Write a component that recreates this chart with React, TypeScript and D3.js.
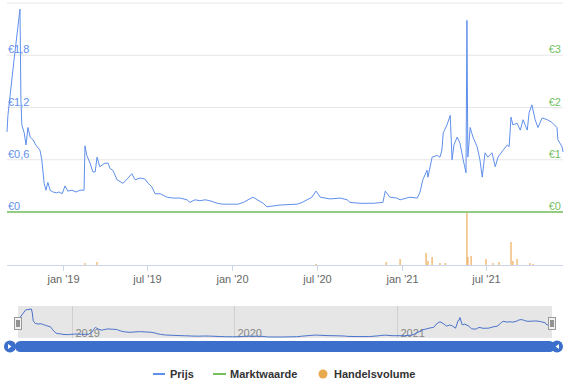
import { useMemo } from "react";
import * as d3 from "d3";

const priceDates = [
  "2018-09-03", "2018-09-05", "2018-09-18", "2018-10-01", "2018-10-03", "2018-10-05", "2018-10-10",
  "2018-10-14", "2018-10-18", "2018-10-23", "2018-10-29", "2018-11-04", "2018-11-13", "2018-11-17",
  "2018-11-22", "2018-11-26", "2018-11-30", "2018-12-05", "2018-12-11", "2018-12-18", "2018-12-24",
  "2018-12-31", "2019-01-06", "2019-01-12", "2019-01-21", "2019-01-30", "2019-02-07", "2019-02-16",
  "2019-02-18", "2019-02-22", "2019-03-01", "2019-03-07", "2019-03-12", "2019-03-16", "2019-03-22",
  "2019-04-02", "2019-04-09", "2019-04-13", "2019-04-19", "2019-04-28", "2019-05-11", "2019-05-22",
  "2019-05-30", "2019-06-06", "2019-06-17", "2019-06-27", "2019-07-04", "2019-07-12", "2019-07-19",
  "2019-07-30", "2019-08-14", "2019-08-27", "2019-09-11", "2019-09-26", "2019-10-02", "2019-10-13",
  "2019-10-24", "2019-11-04", "2019-11-14", "2019-11-30", "2019-12-12", "2019-12-28", "2020-01-14",
  "2020-01-25", "2020-02-15", "2020-03-08", "2020-03-16", "2020-04-13", "2020-05-20", "2020-05-31",
  "2020-06-21", "2020-06-30", "2020-07-09", "2020-07-30", "2020-08-21", "2020-09-05", "2020-09-11",
  "2020-10-03", "2020-10-31", "2020-11-21", "2020-11-26", "2020-12-06", "2020-12-21", "2020-12-28",
  "2021-01-18", "2021-02-03", "2021-02-09", "2021-02-15", "2021-02-24", "2021-02-26", "2021-03-07",
  "2021-03-18", "2021-03-24", "2021-03-28", "2021-03-31", "2021-04-08", "2021-04-15", "2021-04-19",
  "2021-04-23", "2021-04-30", "2021-05-06", "2021-05-13", "2021-05-19", "2021-05-21", "2021-05-23",
  "2021-05-28", "2021-06-03", "2021-06-12", "2021-06-18", "2021-06-23", "2021-06-29", "2021-07-05",
  "2021-07-14", "2021-07-21", "2021-07-27", "2021-08-07", "2021-08-16", "2021-08-20", "2021-08-24",
  "2021-08-28", "2021-09-06", "2021-09-13", "2021-09-19", "2021-09-28", "2021-10-02", "2021-10-08",
  "2021-10-15", "2021-10-21", "2021-10-30", "2021-11-10", "2021-11-20", "2021-12-01", "2021-12-03",
  "2021-12-12", "2021-12-14",
];
const priceValues = [
  0.92, 1.11, 1.74, 2.33, 1.28, 1.0, 0.91,
  0.77, 0.97, 0.86, 0.83, 0.77, 0.71, 0.6,
  0.33, 0.25, 0.34, 0.25, 0.23, 0.22, 0.23,
  0.21, 0.3, 0.24, 0.25, 0.23, 0.25, 0.25,
  0.76, 0.65, 0.56, 0.46, 0.46, 0.63, 0.52,
  0.56, 0.56, 0.5, 0.48, 0.37, 0.33, 0.39,
  0.44, 0.37, 0.39, 0.38, 0.33, 0.29, 0.21,
  0.21, 0.17, 0.16, 0.16, 0.14, 0.11, 0.14,
  0.13, 0.14, 0.13, 0.1, 0.09, 0.09, 0.09,
  0.11, 0.17, 0.1, 0.06, 0.08, 0.09, 0.11,
  0.17, 0.24, 0.17, 0.15, 0.16, 0.14, 0.11,
  0.1, 0.1, 0.11, 0.24, 0.17, 0.16, 0.14,
  0.17, 0.16, 0.23, 0.37, 0.48, 0.4, 0.63,
  0.65, 0.63, 0.71, 0.91, 1.0, 1.11, 0.6,
  0.77, 0.86, 0.79, 0.6, 0.45, 2.2, 0.63,
  0.97, 0.86, 0.75, 0.6, 0.4, 0.68, 0.63,
  0.68, 0.52, 0.63, 0.71, 0.77, 0.75, 1.09,
  1.0, 1.02, 0.94, 1.06, 0.94, 1.14, 1.23,
  1.06, 0.97, 1.08, 1.06, 1.03, 0.97, 0.83,
  0.75, 0.69,
];

const marketDates = ["2018-09-03", "2021-12-14"];
const marketValues = [0, 0];

const volumeDates = [
  "2019-02-18", "2019-03-16", "2020-06-30", "2020-11-28", "2020-12-28", "2021-02-22", "2021-02-26",
  "2021-03-07", "2021-03-24", "2021-04-04", "2021-05-21", "2021-05-23", "2021-05-30", "2021-07-01",
  "2021-07-16", "2021-07-29", "2021-08-24", "2021-08-28", "2021-09-06", "2021-10-04", "2021-10-11",
];
const volumeValues = [2, 3, 1, 3, 6, 12, 4, 8, 2, 2, 52, 8, 9, 6, 2, 3, 23, 4, 6, 2, 1];

const leftTicks = [0, 0.6, 1.2, 1.8, 2.4];
const rightTicks = [0, 1, 2, 3];
const xTickDates = ["2019-01-01", "2019-07-01", "2020-01-01", "2020-07-01", "2021-01-01", "2021-07-01"];
const xTickLabels = ["jan '19", "jul '19", "jan '20", "jul '20", "jan '21", "jul '21"];
const navTickDates = ["2019-01-01", "2020-01-01", "2021-01-01"];
const navTickLabels = ["2019", "2020", "2021"];

const parse = d3.timeParse("%Y-%m-%d");
const FONT = "'Liberation Sans', Arial, sans-serif";
const BLUE = "#5f8fec";
const GREEN = "#74bf5f";
const ORANGE = "#eeb063";

type Pt = { date: Date; value: number };

export default function App() {
  const price: Pt[] = useMemo(() => priceDates.map((d, i) => ({ date: parse(d)!, value: priceValues[i] })), []);
  const market: Pt[] = marketDates.map((d, i) => ({ date: parse(d)!, value: marketValues[i] }));
  const volume: Pt[] = volumeDates.map((d, i) => ({ date: parse(d)!, value: volumeValues[i] }));

  // navigator shows grouped (averaged) prices, like the stock chart's data grouping
  const navPrice: Pt[] = price.map((p, i) => {
    const win = price.slice(Math.max(0, i - 1), Math.min(price.length, i + 2));
    return { date: p.date, value: d3.mean(win, (w) => w.value)! };
  });

  const domain = [parse("2018-09-03")!, parse("2021-12-14")!];
  const x = d3.scaleTime().domain(domain).range([7, 563]);
  const yLeft = d3.scaleLinear().domain([0, 2.4]).range([212, 3]);
  const yRight = d3.scaleLinear().domain([0, 4]).range([212, 3]);
  const yVol = d3.scaleLinear().domain([0, 52]).range([265, 213]);
  const xNav = d3.scaleTime().domain(domain).range([19, 551]);
  const yNav = d3
    .scaleLinear()
    .domain(d3.extent(navPrice, (d) => d.value) as [number, number])
    .range([337, 309]);

  const priceLine = d3
    .line<Pt>()
    .x((d) => x(d.date))
    .y((d) => yLeft(d.value));
  const marketLine = d3
    .line<Pt>()
    .x((d) => x(d.date))
    .y((d) => yRight(d.value));
  const navLine = d3
    .line<Pt>()
    .x((d) => xNav(d.date))
    .y((d) => yNav(d.value));

  const fmt = (v: number) => "€" + String(v).replace(".", ",");

  return (
    <div style={{ position: "absolute", left: 0, top: 0 }}>
      <svg width={580} height={390} style={{ display: "block", fontFamily: FONT }}>
        <rect width={580} height={390} fill="#fff" />

        {/* gridlines */}
        {leftTicks.map((t) => (
          <line key={t} x1={7} x2={563} y1={yLeft(t)} y2={yLeft(t)} stroke="#e6e6e6" />
        ))}

        {/* left axis labels */}
        {leftTicks
          .filter((t) => t < 2.4)
          .map((t) => (
            <text key={t} x={8} y={yLeft(t) - 2} fontSize={11} fill={BLUE}>
              {fmt(t)}
            </text>
          ))}
        {/* right axis labels */}
        {rightTicks.map((t) => (
          <text key={t} x={561} y={yRight(t) - 2} fontSize={11} fill={GREEN} textAnchor="end">
            {fmt(t)}
          </text>
        ))}

        {/* volume axis */}
        <line x1={7} x2={563} y1={265.5} y2={265.5} stroke="#ccd6eb" />
        {volume.map((d, i) => (
          <rect
            key={i}
            x={x(d.date) - 0.75}
            width={1.5}
            y={yVol(d.value)}
            height={265 - yVol(d.value)}
            fill={ORANGE}
            opacity={0.85}
          />
        ))}
        {xTickDates.map((d, i) => {
          const px = Math.round(x(parse(d)!)) + 0.5;
          return (
            <g key={d}>
              <line x1={px} x2={px} y1={265} y2={271} stroke="#ccd6eb" />
              <text x={px} y={283} fontSize={11} fill="#666" textAnchor="middle">
                {xTickLabels[i]}
              </text>
            </g>
          );
        })}

        {/* series */}
        <path d={marketLine(market)!} fill="none" stroke={GREEN} strokeWidth={1.5} />
        <path d={priceLine(price)!} fill="none" stroke={BLUE} strokeWidth={1} strokeLinejoin="round" />

        {/* navigator */}
        <rect x={18} y={306} width={534} height={32} fill="#e6e6e6" />
        {navTickDates.map((d, i) => {
          const px = Math.round(xNav(parse(d)!)) + 0.5;
          return (
            <g key={d}>
              <line x1={px} x2={px} y1={306} y2={338} stroke="#d0d0d0" />
              <text x={px + 3} y={337} fontSize={11} fill="#888">
                {navTickLabels[i]}
              </text>
            </g>
          );
        })}
        <path d={navLine(navPrice)!} fill="none" stroke="#4a72cc" strokeWidth={1} />
        {[18, 552].map((hx) => (
          <g key={hx}>
            <rect x={hx - 3.5} y={317.5} width={7} height={12} fill="#f2f2f2" stroke="#999" />
            <line x1={hx - 1} x2={hx - 1} y1={320} y2={327} stroke="#333" />
            <line x1={hx + 1} x2={hx + 1} y1={320} y2={327} stroke="#333" />
          </g>
        ))}

        {/* scrollbar */}
        <rect x={15} y={341} width={540} height={11} rx={5.5} fill="#3b6fcb" />
        {[
          { cx: 10, dir: -1 },
          { cx: 557, dir: 1 },
        ].map((b) => (
          <g key={b.cx}>
            <circle cx={b.cx} cy={346.5} r={6} fill="#3b6fcb" />
            <path
              d={`M${b.cx + b.dir * 2},${344} L${b.cx - b.dir * 1.5},${346.5} L${b.cx + b.dir * 2},${349} Z`}
              fill="#fff"
            />
          </g>
        ))}

        {/* legend */}
        <g fontSize={11} fontWeight="bold" fill="#333">
          <line x1={153} x2={165} y1={374} y2={374} stroke={BLUE} strokeWidth={2} />
          <text x={170} y={378}>Prijs</text>
          <line x1={213} x2={226} y1={374} y2={374} stroke={GREEN} strokeWidth={2} />
          <text x={230} y={378}>Marktwaarde</text>
          <circle cx={323} cy={374} r={4.5} fill="#e9a94f" />
          <text x={334} y={378}>Handelsvolume</text>
        </g>
      </svg>
    </div>
  );
}
